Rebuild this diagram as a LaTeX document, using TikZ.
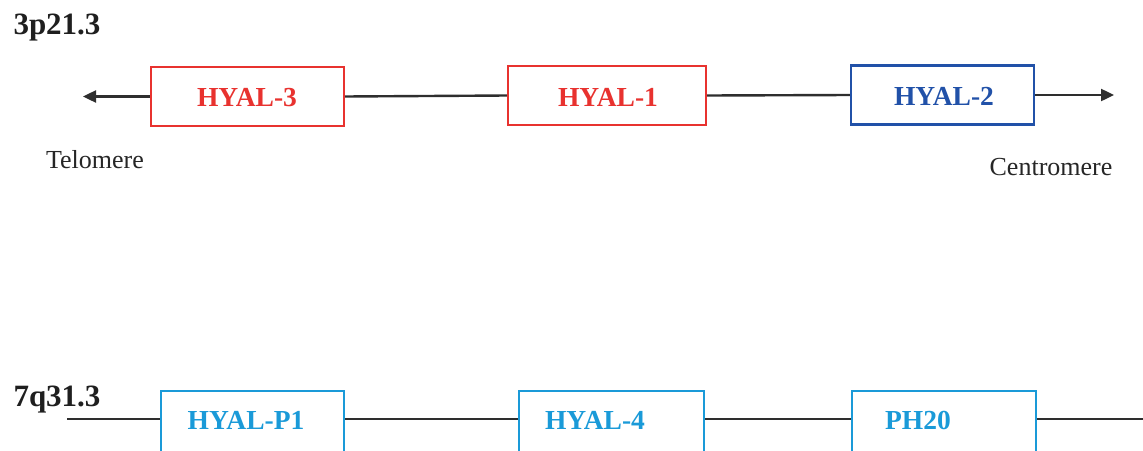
\documentclass[tikz,border=0pt]{standalone}
\usepackage{fontspec}
\setmainfont{Liberation Serif}
\usetikzlibrary{arrows.meta}
\definecolor{genered}{HTML}{E8322F}
\definecolor{geneblue}{HTML}{2151A8}
\definecolor{genecyan}{HTML}{1A9AD8}
\definecolor{chromline}{HTML}{2E2E2E}
\tikzset{
  genebox/.style={draw, line width=2.1pt, rectangle, inner sep=0pt, minimum height=59pt},
  genelabel/.style={font=\fontsize{27.5}{30}\selectfont\bfseries, anchor=base, inner sep=0pt},
  bandlabel/.style={font=\fontsize{31}{33}\selectfont\bfseries, anchor=base, inner sep=0pt, text=black!88},
  endlabel/.style={font=\fontsize{26}{28}\selectfont, anchor=base, inner sep=0pt, text=black!85},
  chrom/.style={draw=chromline, line width=2.4pt},
  tip/.style={-{Triangle[length=13pt,width=12pt]}}
}
\begin{document}
\begin{tikzpicture}[x=1pt,y=-1pt]
\useasboundingbox (0,0) rectangle (1143,450);

% chromosome 3, band p21.3
\node[bandlabel] (band3) at (57,34) {3p21.3};
\node[genebox, draw=genered, minimum width=193pt] (h3) at (247.5,96.5) {};
\node[genebox, draw=genered, minimum width=198pt] (h1) at (607,95.5) {};
\node[genebox, draw=geneblue, minimum width=183pt] (h2) at (942.5,95) {};
\node[genelabel, text=genered] (h3t) at (247,106) {HYAL-3};
\node[genelabel, text=genered] (h1t) at (608,106) {HYAL-1};
\node[genelabel, text=geneblue] (h2t) at (944,105) {HYAL-2};
\coordinate (tel) at (83,96.5);
\coordinate (cen) at (1114,95);
\draw[chrom, tip] (h3.west) -- (tel);
\draw[chrom] (h3.east) -- (h1.west);
\draw[chrom] (h1.east) -- (h2.west);
\draw[chrom, tip] (h2.east) -- (cen);
\node[endlabel] (telt) at (95,168) {Telomere};
\node[endlabel] (cent) at (1051,175) {Centromere};

% chromosome 7, band q31.3
\node[bandlabel] (band7) at (57,406) {7q31.3};
\node[genebox, draw=genecyan, minimum width=183pt, minimum height=70pt] (p1) at (252.5,426) {};
\node[genebox, draw=genecyan, minimum width=185pt, minimum height=70pt] (h4) at (611.5,426) {};
\node[genebox, draw=genecyan, minimum width=184pt, minimum height=70pt] (ph) at (944,426) {};
\node[genelabel, text=genecyan] (p1t) at (246,429) {HYAL-P1};
\node[genelabel, text=genecyan] (h4t) at (595,429) {HYAL-4};
\node[genelabel, text=genecyan] (pht) at (918,429) {PH20};
\coordinate (left7) at (67,419);
\coordinate (right7) at (1143,419);
\draw[chrom] (left7) -- (p1.west |- left7);
\draw[chrom] (p1.east |- left7) -- (h4.west |- left7);
\draw[chrom] (h4.east |- left7) -- (ph.west |- left7);
\draw[chrom] (ph.east |- left7) -- (right7);
\end{tikzpicture}
\end{document}
